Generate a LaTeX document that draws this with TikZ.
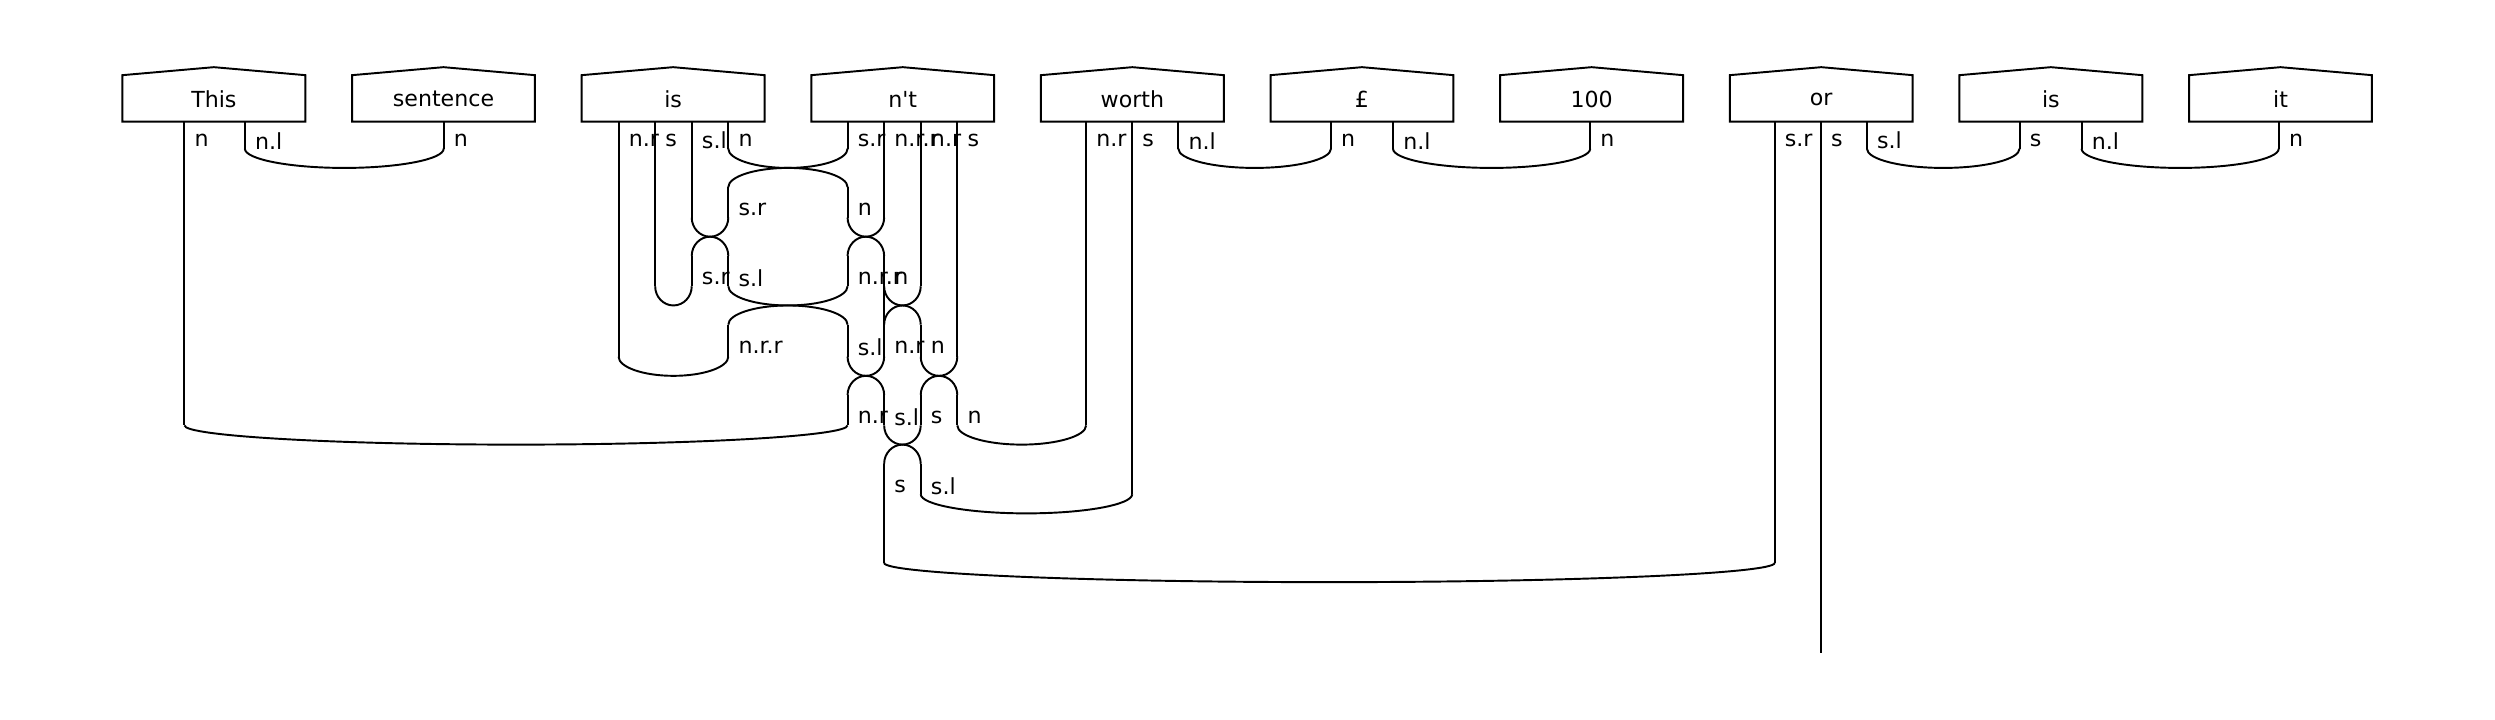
\documentclass[tikz,border=0pt]{standalone}
\usepackage{fontspec}
\setmainfont{DejaVu Sans}
\usetikzlibrary{positioning}
\tikzset{
  wire/.style={line width=0.55pt},
  lbl/.style={anchor=west,inner sep=0pt,font=\fontsize{6.3}{7}\selectfont},
  boxtxt/.style={inner sep=0pt,font=\fontsize{6.3}{7}\selectfont}
}
% cup: two wire ends joined below, bottom at #3
\newcommand{\wirecup}[3]{%
  \pgfmathsetmacro\wmid{(#1+#2)/2}\pgfmathsetmacro\wk{0.45*(#2-#1)/2}%
  \draw[wire] (#1,#3-12) .. controls (#1,#3-5.4) and (#1+\wk,#3) .. (\wmid,#3)
    .. controls (#2-\wk,#3) and (#2,#3-5.4) .. (#2,#3-12);}
% cap: two new wire ends joined above, top at #3
\newcommand{\wirecap}[3]{%
  \pgfmathsetmacro\wmid{(#1+#2)/2}\pgfmathsetmacro\wk{0.45*(#2-#1)/2}%
  \draw[wire] (#1,#3+12) .. controls (#1,#3+5.4) and (#1+\wk,#3) .. (\wmid,#3)
    .. controls (#2-\wk,#3) and (#2,#3+5.4) .. (#2,#3+12);}
\begin{document}
\begin{tikzpicture}[x=0.01591cm,y=-0.016cm]
  \useasboundingbox (0,0) rectangle (1569,450);
  %word boxes
  \foreach \nm/\txt [count=\i from 0] in {this/This,sentence/sentence,is/is,nt/n\textquotesingle t,worth/worth,pound/\pounds,hundred/100,or/or,istwo/is,it/it}{
    \pgfmathsetmacro\bx{77+144.4*\i}
    \draw[wire] (\bx,76) -- (\bx,47) -- (\bx+57.5,42) -- (\bx+115,47) -- (\bx+115,76) -- cycle;
    \node[boxtxt] (\nm) at (\bx+57.5,62) {\txt};
  }
  %straight wire pieces
  \foreach \x/\ya/\yb in {116/76/266, 154/76/93, 279/76/93, 389/76/223, 412/76/179,
      435/76/136, 435/160/179, 458/76/93, 458/117/136, 458/160/179, 458/203/223,
      533/76/93, 533/117/136, 533/160/179, 533/203/223, 533/247/266,
      556/76/136, 556/160/223, 556/247/266, 556/290/352,
      579/76/179, 579/203/223, 579/247/266, 579/290/309,
      602/76/223, 602/247/266, 683/76/266, 712/76/309,
      741/76/93, 837/76/93, 876/76/93, 1000/76/93,
      1174/76/93, 1270/76/93, 1309/76/93, 1433/76/93,
      1116/76/352, 1145/76/408}
    \draw[wire] (\x,\ya) -- (\x,\yb);
  %cups
  \foreach \a/\b/\y in {154/279/105, 458/533/105, 741/837/105, 876/1000/105, 1174/1270/105, 1309/1433/105,
      435/458/148, 533/556/148, 412/435/191, 458/533/191, 556/579/191,
      389/458/235, 533/556/235, 579/602/235, 116/533/278, 556/579/278, 602/683/278,
      579/712/321, 556/1116/364}
    \wirecup{\a}{\b}{\y};
  %caps
  \foreach \a/\b/\y in {458/533/105, 435/458/148, 533/556/148, 458/533/191, 556/579/191,
      533/556/235, 579/602/235, 556/579/278}
    \wirecap{\a}{\b}{\y};
  %type labels
  \foreach \x/\y/\t in {116/88/n, 154/88/n.l, 279/88/n, 389/88/n.r, 412/88/s, 435/88/s.l, 458/88/n,
      533/88/s.r, 556/88/n.r.r, 579/88/n.r, 602/88/s, 683/88/n.r, 712/88/s, 741/88/n.l, 837/88/n,
      876/88/n.l, 1000/88/n, 1116/88/s.r, 1145/88/s, 1174/88/s.l, 1270/88/s, 1309/88/n.l, 1433/88/n,
      458/131/s.r, 533/131/n,
      435/174/s.r, 458/174/s.l, 533/174/n.r.r, 556/174/n,
      458/217/n.r.r, 533/217/s.l, 556/217/n.r, 579/217/n,
      533/261/n.r, 556/261/s.l, 579/261/s, 602/261/n,
      556/304/s, 579/304/s.l}
    \node[lbl] at (\x+6,\y) {\t};
\end{tikzpicture}
\end{document}
